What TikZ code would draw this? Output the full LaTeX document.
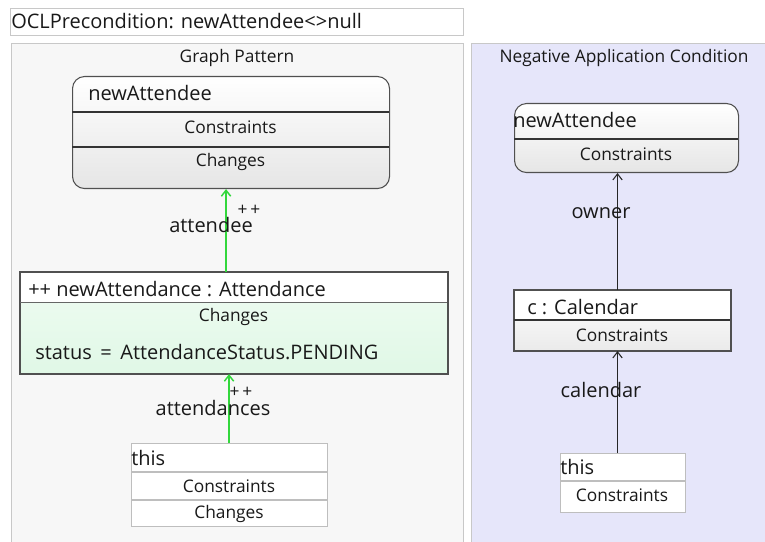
\documentclass[tikz,border=0pt]{standalone}
\usepackage{fontspec}
\setmainfont{Open Sans}
\usetikzlibrary{arrows.meta,positioning}
\definecolor{panelgray}{RGB}{247,247,247}
\definecolor{panelline}{RGB}{200,200,200}
\definecolor{nacfill}{RGB}{230,230,250}
\definecolor{boxline}{RGB}{80,80,80}
\definecolor{greenfill}{RGB}{224,248,230}
\definecolor{greenarrow}{RGB}{50,215,60}
\definecolor{txt}{RGB}{25,25,25}
\definecolor{lightline}{RGB}{190,190,190}
\tikzset{
  big/.style={font=\fontsize{15pt}{17pt}\selectfont, text=txt, inner sep=0pt},
  small/.style={font=\fontsize{13pt}{15pt}\selectfont, text=txt, inner sep=0pt},
  panel/.style={draw=panelline, line width=0.8pt},
  roundbox/.style={draw=boxline, line width=0.8pt, rounded corners=9pt, top color=white, bottom color=black!10, inner sep=0pt},
  sqbox/.style={draw=boxline, line width=0.8pt, inner sep=0pt},
  thisbox/.style={draw=lightline, line width=0.8pt, fill=white, inner sep=0pt},
  greenlink/.style={draw=greenarrow, line width=1.1pt, -{Straight Barb[length=4.5pt,width=7pt]}},
  blacklink/.style={draw=black!85, line width=0.8pt, -{Straight Barb[length=4.5pt,width=7pt]}},
  rowline/.style={draw=black!80, line width=0.8pt},
}
\begin{document}
\begin{tikzpicture}[x=0.75pt,y=-0.75pt]
\useasboundingbox (0,0) rectangle (765,542);
\fill[white] (0,0) rectangle (765,542);
% OCL box
\node[panel, fill=white, minimum width=453*0.75pt, minimum height=27*0.75pt, inner sep=0pt, anchor=north west] (ocl) at (10,8) {};
\node[big, anchor=west] (ocltxt) at (11,21.5) {OCLPrecondition: newAttendee<>null};
% Panels
\node[panel, fill=panelgray, minimum width=452*0.75pt, minimum height=510*0.75pt, anchor=north west] (gp) at (11,43) {};
\node[small, anchor=center] (gptitle) at (237,58) {Graph Pattern};
\node[panel, fill=nacfill, minimum width=300*0.75pt, minimum height=510*0.75pt, anchor=north west] (nac) at (471,43) {};
\node[small, anchor=center] (nactitle) at (624,58) {Negative Application Condition};

% newAttendee (graph pattern)
\node[roundbox, minimum width=317*0.75pt, minimum height=112*0.75pt, anchor=north west] (na) at (72,76) {};
\draw[rowline] (72,112) -- (389,112);
\draw[rowline] (72,147) -- (389,147);
\node[big, anchor=west] (natitle) at (88,93) {newAttendee};
\node[small] (nacons) at (230.5,127) {Constraints};
\node[small] (nachg) at (230.5,162) {Changes};

% newAttendance
\node[sqbox, top color=greenfill!50, bottom color=greenfill, minimum width=427*0.75pt, minimum height=101*0.75pt, anchor=north west] (nat) at (20,272) {};
\fill[white] (20.4,272.4) rectangle (446.6,302);
\draw[sqbox] (nat.north west) rectangle (nat.south east);
\draw[draw=black!60, line width=0.6pt] (20,302) -- (447,302);
\node[big, anchor=west] (nattitle) at (28,289) {++ newAttendance : Attendance};
\node[small] (natchg) at (233.5,317) {Changes};
\node[big, anchor=west] (natstatus) at (35,352) {status \,=\, AttendanceStatus.PENDING};

% this (graph pattern)
\node[thisbox, minimum width=196*0.75pt, minimum height=83*0.75pt, anchor=north west] (th) at (131,443) {};
\draw[draw=lightline, line width=0.8pt] (131,472) -- (327,472);
\draw[draw=lightline, line width=0.8pt] (131,500) -- (327,500);
\node[big, anchor=west] (thtitle) at (131,458) {this};
\node[small] (thcons) at (229,486) {Constraints};
\node[small] (thchg) at (229,514) {Changes};

% green links
\draw[greenlink] ([xshift=-8*0.75pt]nat.north) -- ([xshift=-5*0.75pt]na.south);
\node[big] (lblattendee) at (211,225) {attendee};
\node[small] (pp1) at (249,210) {+\,+};
\draw[greenlink] ([xshift=-0.5*0.75pt]th.north) -- ([xshift=-5*0.75pt]nat.south);
\node[big] (lblattendances) at (213,408) {attendances};
\node[small] (pp2) at (241,392) {+\,+};

% NAC newAttendee
\node[roundbox, minimum width=224*0.75pt, minimum height=69*0.75pt, anchor=north west] (nb) at (514,103) {};
\draw[rowline] (514,139) -- (738,139);
\node[big, anchor=west] (nbtitle) at (513,120) {newAttendee};
\node[small] (nbcons) at (626,154) {Constraints};

% c : Calendar
\node[sqbox, top color=white, bottom color=black!8, minimum width=216*0.75pt, minimum height=60*0.75pt, anchor=north west] (cal) at (514,290) {};
\fill[white] (514.4,290.4) rectangle (729.6,320);
\draw[sqbox] (cal.north west) rectangle (cal.south east);
\draw[rowline] (514,320) -- (730,320);
\node[big, anchor=west] (caltitle) at (527,307) {c : Calendar};
\node[small] (calcons) at (622,335) {Constraints};

% this (NAC)
\node[thisbox, minimum width=125*0.75pt, minimum height=59*0.75pt, anchor=north west] (tn) at (560,453) {};
\draw[draw=lightline, line width=0.8pt] (560,481) -- (685,481);
\node[big, anchor=west] (tntitle) at (560,467) {this};
\node[small] (tncons) at (622,495) {Constraints};

% black links
\draw[blacklink] ([xshift=-5*0.75pt]cal.north) -- ([xshift=-9*0.75pt]nb.south);
\node[big] (lblowner) at (601,213) {owner};
\draw[blacklink] ([xshift=-5.5*0.75pt]tn.north) -- ([xshift=-5*0.75pt]cal.south);
\node[big] (lblcal) at (601,390) {calendar};
\end{tikzpicture}
\end{document}
